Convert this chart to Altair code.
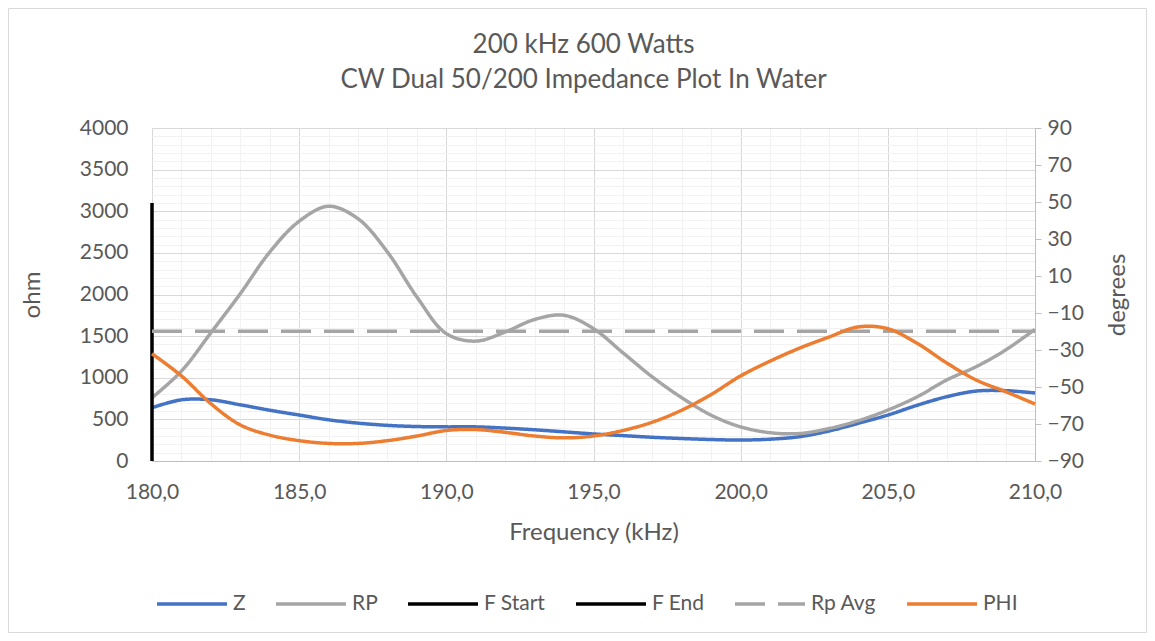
import altair as alt
import pandas as pd

# ---------------- data ----------------
freq_khz = list(range(180, 211))
z_ohm = [640, 735, 735, 675, 610, 552, 495, 455, 428, 414, 410,
         410, 395, 375, 350, 325, 305, 285, 270, 258, 252,
         262, 292, 360, 453, 552, 670, 772, 840, 845, 817]
rp_ohm = [760, 1080, 1540, 2010, 2510, 2880, 3060, 2910, 2510, 1970, 1530,
          1440, 1550, 1700, 1750, 1590, 1300, 1010, 760, 550, 410,
          340, 330, 390, 485, 612, 772, 973, 1133, 1333, 1582]
phi_deg = [-32, -44, -59, -70.5, -76, -79, -80.5, -80.5, -79, -76.5, -73.5,
           -73, -74.5, -76.5, -77.5, -76.5, -73.5, -69, -62.5, -54, -44,
           -36, -29, -23, -17.5, -18.5, -26.4, -37, -46.2, -52.5, -59.2]
rp_avg_ohm = 1560
rp_avg_span = [180, 210]
f_start_khz = 180
f_start_span_ohm = [0, 3100]

series_names = ["Z", "RP", "F Start", "F End", "Rp Avg", "PHI"]
series_colors = ["#4472C4", "#A5A5A5", "#000000", "#000000", "#A5A5A5", "#ED7D31"]
series_dash = [[1, 0], [1, 0], [1, 0], [1, 0], [30, 13], [1, 0]]

x_ticks = list(range(180, 211))
y_left_ticks = list(range(0, 4001, 100))
y_right_ticks = list(range(-90, 91, 20))

title_lines = ["200 kHz 600 Watts", "CW Dual 50/200 Impedance Plot In Water"]

# ---------------- tables ----------------
rows = []
for f, v in zip(freq_khz, z_ohm):
    rows.append({"freq": f, "ohm": v, "series": "Z", "ord": f})
for f, v in zip(freq_khz, rp_ohm):
    rows.append({"freq": f, "ohm": v, "series": "RP", "ord": f})
for i, v in enumerate(f_start_span_ohm):
    rows.append({"freq": f_start_khz, "ohm": v, "series": "F Start", "ord": i})
for f in rp_avg_span:
    rows.append({"freq": f, "ohm": rp_avg_ohm, "series": "Rp Avg", "ord": f})
left_df = pd.DataFrame(rows)
phi_df = pd.DataFrame({"freq": freq_khz, "deg": phi_deg, "series": "PHI"})

TEXT = "#595959"
FONT = "Lato"
MAJOR = "#D9D9D9"
MINOR = "#F2F2F2"
PLOT_W, PLOT_H = 883, 333

x_enc = alt.X(
    "freq:Q",
    scale=alt.Scale(domain=[180, 210], nice=False, zero=False),
    axis=alt.Axis(
        values=x_ticks,
        title="Frequency (kHz)",
        labelExpr="datum.value % 5 === 0 ? replace(format(datum.value, '.1f'), '.', ',') : ''",
        labelOverlap=False, labelFlush=False,
        ticks=False, labelPadding=20,
        grid=True,
        gridColor={"condition": {"test": "datum.value % 5 === 0", "value": MAJOR}, "value": MINOR},
        domainColor="#BFBFBF",
        labelFontSize=21, labelColor=TEXT, labelFont=FONT,
        titleFontSize=24, titleColor=TEXT, titleFont=FONT, titleFontWeight="normal",
        titleY=71, titleBaseline="middle",
    ),
)

y_left = alt.Y(
    "ohm:Q",
    scale=alt.Scale(domain=[0, 4000], nice=False, zero=True),
    axis=alt.Axis(
        values=y_left_ticks,
        title="ohm",
        labelExpr="datum.value % 500 === 0 ? format(datum.value, 'd') : ''",
        labelOverlap=False, labelFlush=False,
        ticks=False, labelPadding=24, domain=False,
        grid=True,
        gridColor={"condition": {"test": "datum.value % 500 === 0", "value": MAJOR}, "value": MINOR},
        labelFontSize=21, labelColor=TEXT, labelFont=FONT,
        titleFontSize=24, titleColor=TEXT, titleFont=FONT, titleFontWeight="normal",
        titleX=-120, titleY=PLOT_H / 2, titleAngle=270, titleBaseline="middle",
    ),
)

y_right = alt.Y(
    "deg:Q",
    scale=alt.Scale(domain=[-90, 90], nice=False, zero=False),
    axis=alt.Axis(
        orient="right",
        values=y_right_ticks,
        title="degrees",
        format="d",
        labelOverlap=False, labelFlush=False,
        grid=False,
        ticks=True, tickSize=6, tickColor="#BFBFBF",
        domainColor="#BFBFBF", labelPadding=6,
        labelFontSize=21, labelColor=TEXT, labelFont=FONT,
        titleFontSize=24, titleColor=TEXT, titleFont=FONT, titleFontWeight="normal",
        titleX=82, titleY=PLOT_H / 2, titleAngle=270, titleBaseline="middle",
    ),
)

legend = alt.Legend(
    title=None, orient="none", direction="horizontal",
    legendX=3, legendY=439,
    symbolType="stroke", symbolSize=4900, symbolStrokeWidth=3.5,
    labelFontSize=21, labelColor=TEXT, labelFont=FONT,
    labelOffset=4, columnPadding=23,
)
color_enc = alt.Color("series:N", scale=alt.Scale(domain=series_names, range=series_colors), legend=legend)
dash_enc = alt.StrokeDash("series:N", scale=alt.Scale(domain=series_names, range=series_dash), legend=legend)


def left_line(name, interp):
    return (
        alt.Chart(left_df)
        .transform_filter(alt.datum.series == name)
        .mark_line(interpolate=interp, strokeWidth=3.5)
        .encode(x=x_enc, y=y_left, color=color_enc, strokeDash=dash_enc, order="ord:Q")
    )


left_group = alt.layer(
    left_line("Z", "catmull-rom"),
    left_line("RP", "catmull-rom"),
    left_line("F Start", "linear"),
    left_line("Rp Avg", "linear"),
)

phi_layer = (
    alt.Chart(phi_df)
    .mark_line(interpolate="catmull-rom", strokeWidth=3.5)
    .encode(x=x_enc, y=y_right, color=color_enc, strokeDash=dash_enc)
)

frame = (
    alt.Chart(pd.DataFrame({"k": [0]}))
    .mark_rect(fill="transparent", stroke="#D9D9D9", strokeWidth=1)
    .encode(x=alt.value(-143.5), x2=alt.value(994.5), y=alt.value(-119.5), y2=alt.value(504.5))
)

chart = (
    alt.layer(frame, left_group, phi_layer)
    .resolve_scale(y="independent")
    .properties(
        width=PLOT_W, height=PLOT_H,
        autosize=alt.AutoSizeParams(type="none"),
        padding={"left": 144, "top": 120, "right": 112, "bottom": 172},
        title=alt.TitleParams(
            text=title_lines, fontSize=26, font=FONT, fontWeight="normal", color=TEXT,
            lineHeight=35, anchor="middle", frame="group", offset=-85, dx=-10,
        ),
    )
    .configure_view(strokeWidth=0)
    .configure(background="white")
)

chart.save("out.html", embed_options={"renderer": "svg", "actions": False})
